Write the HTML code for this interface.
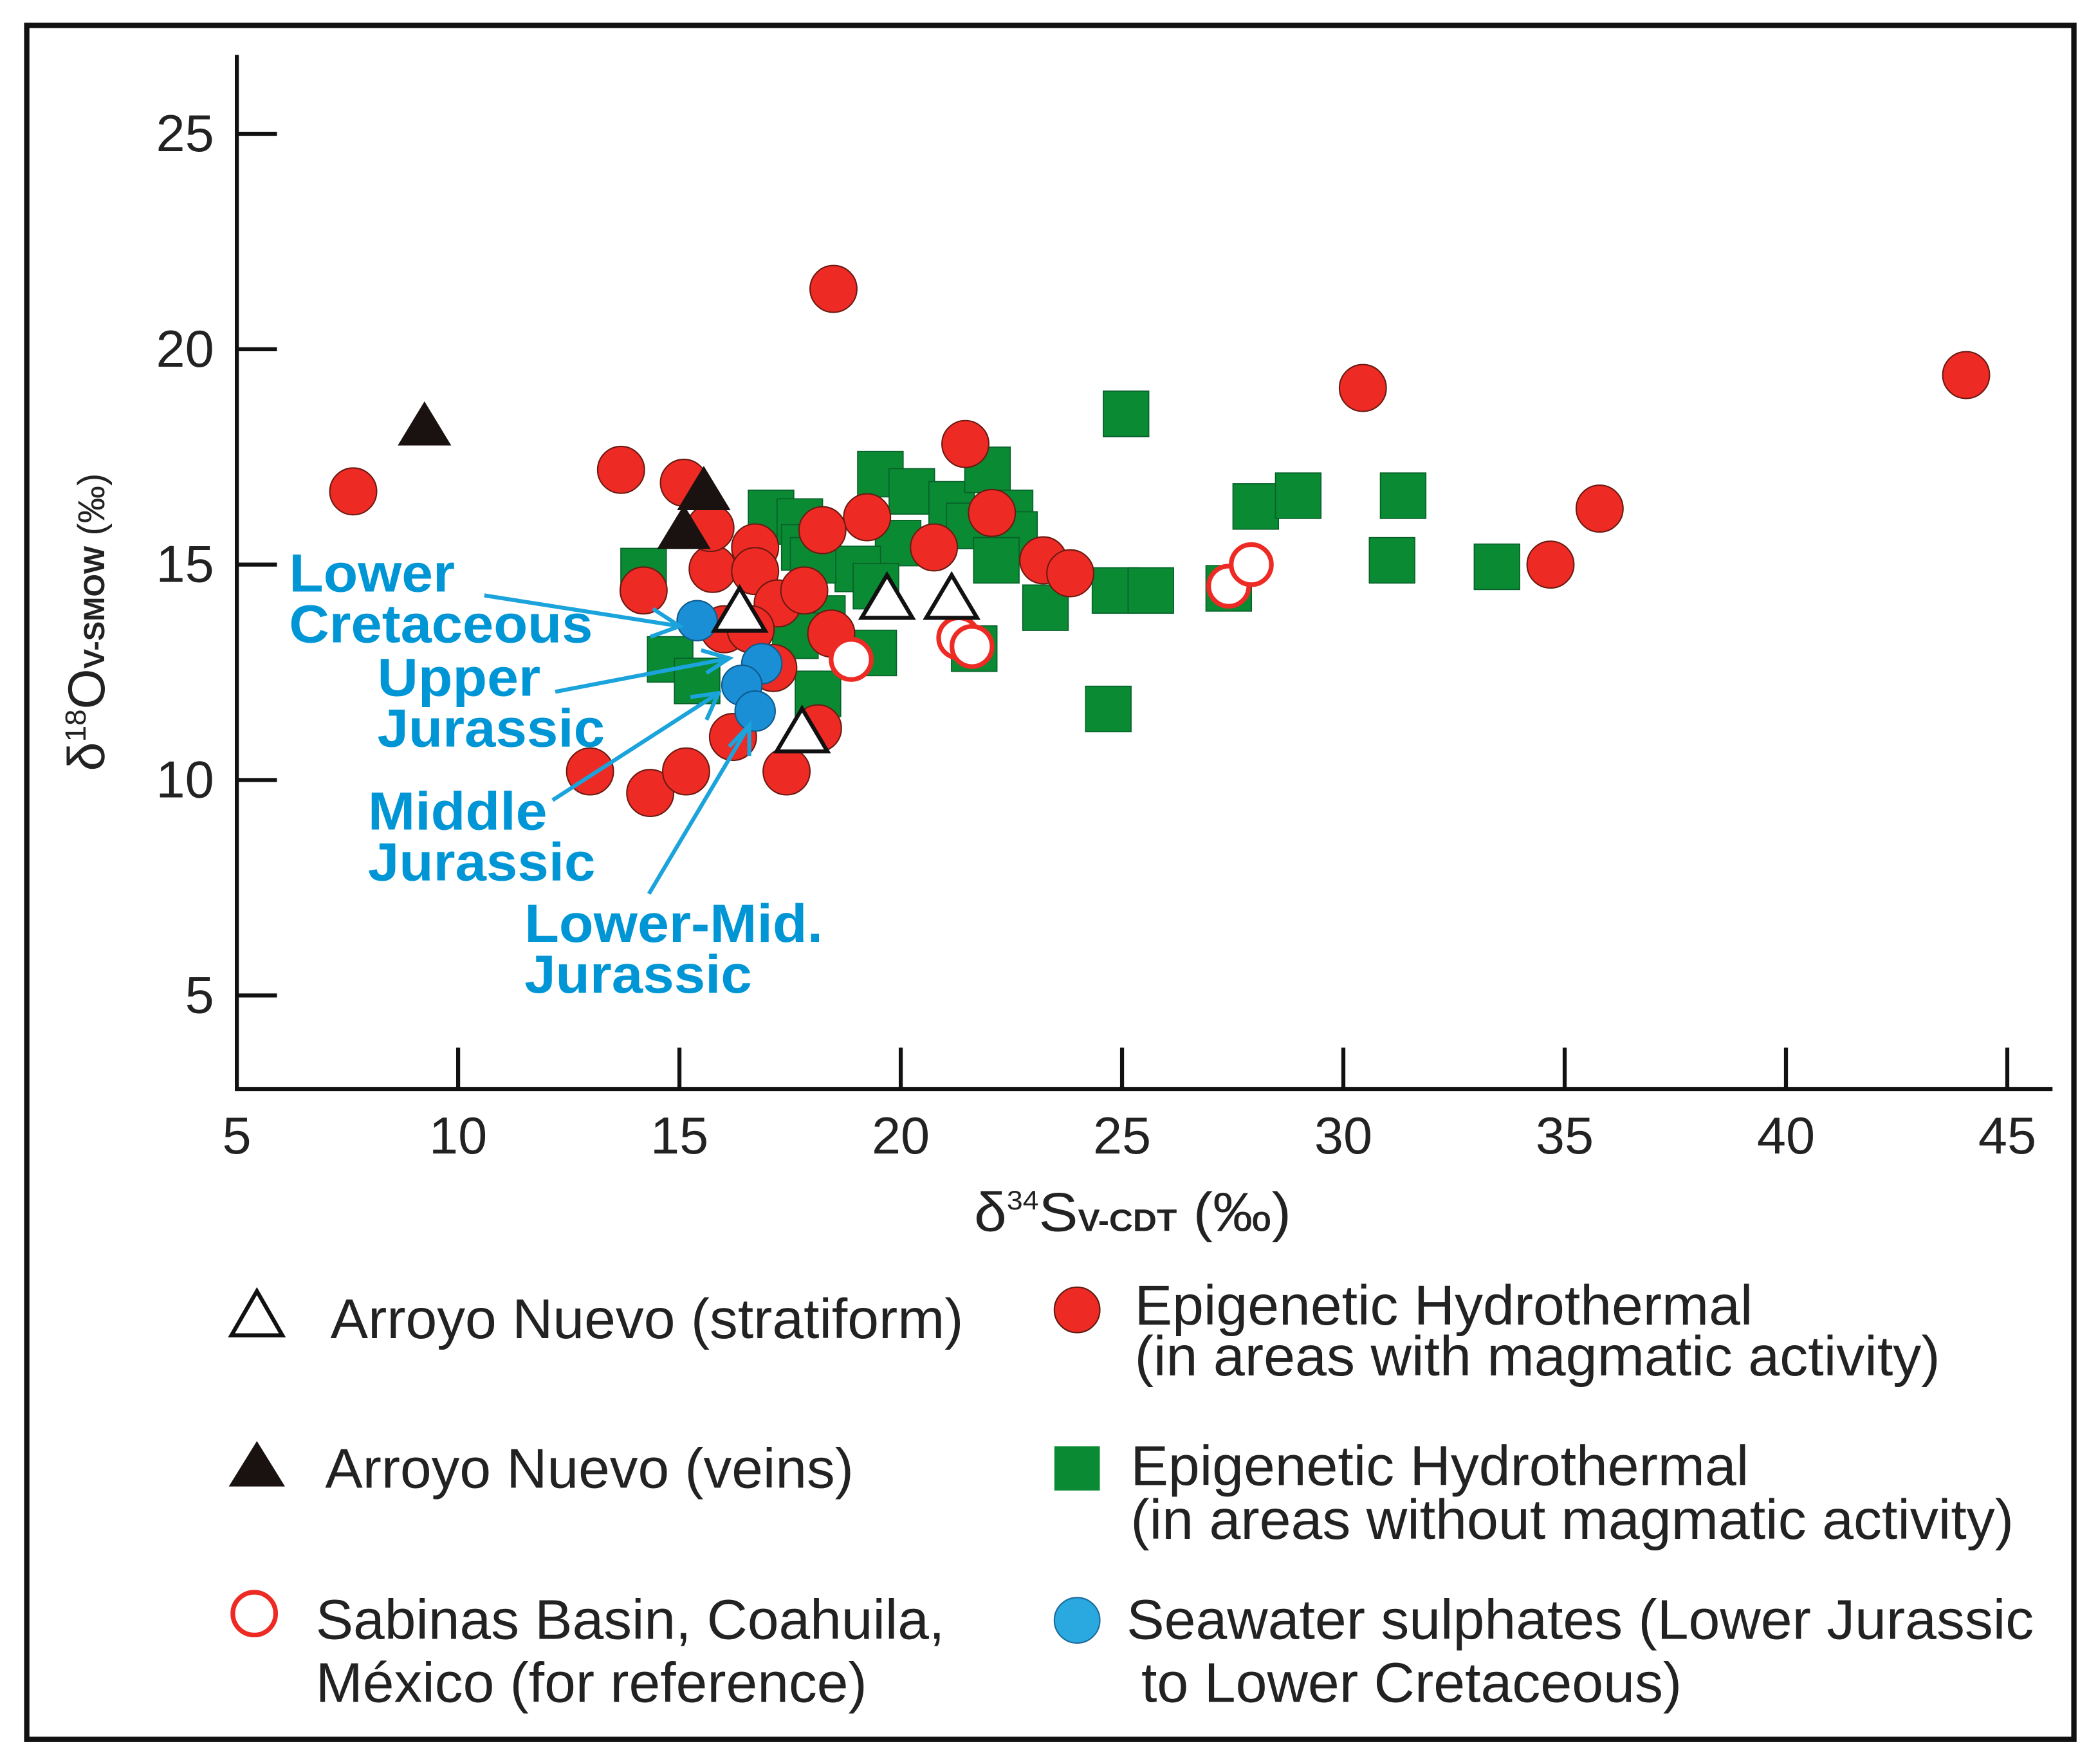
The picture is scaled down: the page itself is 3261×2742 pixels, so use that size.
<!DOCTYPE html>
<html><head><meta charset="utf-8"><style>
html,body{margin:0;padding:0;background:#fff;}
svg{display:block;}
text{font-family:"Liberation Sans",Arial,sans-serif;}
</style></head><body>
<svg id="chart" width="3261" height="2742" viewBox="0 0 1568 1318.4" preserveAspectRatio="none" xmlns="http://www.w3.org/2000/svg">
<rect x="20" y="19" width="1530" height="1281" fill="#fff" stroke="#111" stroke-width="4"/>
<g id="axes"></g>
<g id="marks"></g>
<g fill="#0096d6" font-weight="bold" font-size="40" lengthAdjust="spacingAndGlyphs">
<text x="216" y="442" textLength="124" lengthAdjust="spacingAndGlyphs">Lower</text>
<text x="216" y="480" textLength="227" lengthAdjust="spacingAndGlyphs">Cretaceous</text>
<text x="282" y="520" textLength="122" lengthAdjust="spacingAndGlyphs">Upper</text>
<text x="282" y="558" textLength="170" lengthAdjust="spacingAndGlyphs">Jurassic</text>
<text x="275" y="620" textLength="134" lengthAdjust="spacingAndGlyphs">Middle</text>
<text x="275" y="658" textLength="170" lengthAdjust="spacingAndGlyphs">Jurassic</text>
<text x="392" y="704" textLength="223" lengthAdjust="spacingAndGlyphs">Lower-Mid.</text>
<text x="392" y="742" textLength="170" lengthAdjust="spacingAndGlyphs">Jurassic</text>
</g>
<g stroke="#1ba3dc" stroke-width="3" fill="none">
<path d="M362 445 L508 468 M488 455 L508 468 L486 476"/>
<path d="M415 517 L545 492 M524 486 L545 492 L528 503"/>
<path d="M413 598 L537 518 M516 521 L537 518 L528 538"/>
<path d="M485 668 L560 542 M545 558 L560 542 L560 565"/>
</g>
<g font-size="42" fill="#222">
<polygon points="192,965 173,998 211,998" fill="#fff" stroke="#111" stroke-width="3"/>
<text x="247" y="1000" textLength="473" lengthAdjust="spacingAndGlyphs">Arroyo Nuevo (stratiform)</text>
<polygon points="192,1077 171,1111 213,1111" fill="#1a1210"/>
<text x="243" y="1112" textLength="395" lengthAdjust="spacingAndGlyphs">Arroyo Nuevo (veins)</text>
<circle cx="190" cy="1206" r="16" fill="#fff" stroke="#ee2a24" stroke-width="3.5"/>
<text x="236" y="1225" textLength="470" lengthAdjust="spacingAndGlyphs">Sabinas Basin, Coahuila,</text>
<text x="236" y="1272" textLength="412" lengthAdjust="spacingAndGlyphs">México (for reference)</text>
<circle cx="805" cy="979" r="17" fill="#ee2a24" stroke="#5a1a10" stroke-width="1"/>
<text x="848" y="990" textLength="462" lengthAdjust="spacingAndGlyphs">Epigenetic Hydrothermal</text>
<text x="848" y="1028" textLength="602" lengthAdjust="spacingAndGlyphs">(in areas with magmatic activity)</text>
<rect x="788" y="1081" width="34" height="33" fill="#0a8a32"/>
<text x="845" y="1110" textLength="462" lengthAdjust="spacingAndGlyphs">Epigenetic Hydrothermal</text>
<text x="845" y="1150" textLength="660" lengthAdjust="spacingAndGlyphs">(in areas without magmatic activity)</text>
<circle cx="805" cy="1211" r="17" fill="#2aa8e0" stroke="#1a6a9a" stroke-width="1"/>
<text x="842" y="1225" textLength="678" lengthAdjust="spacingAndGlyphs">Seawater sulphates (Lower Jurassic</text>
<text x="853" y="1272" textLength="404" lengthAdjust="spacingAndGlyphs">to Lower Cretaceous)</text>
</g>
</svg>
<script>
const xTicks = [5,10,15,20,25,30,35,40,45];
const yTicks = [5,10,15,20,25];
const redX = [18.48,7.63,30.44,44.07,35.79,34.68,13.68,15.10,21.46,22.06,19.24,18.23,20.75,23.22,23.83,15.75,16.71,16.71,17.22,14.19,15.70,12.98,14.34,15.15,17.42,16.21,18.13,17.12,16.01,16.61,17.82,18.43];
const redY = [21.4,16.7,19.1,19.4,16.3,15.0,17.2,16.9,17.8,16.2,16.1,15.8,15.4,15.1,14.8,14.9,15.4,14.85,14.1,14.4,15.85,10.2,9.7,10.2,10.2,11.0,11.2,12.6,13.5,13.5,14.4,13.4];
const greenX = [25.09,14.19,17.07,17.72,19.54,20.25,21.15,21.96,22.47,21.55,22.57,22.16,19.94,19.03,17.82,18.02,19.44,18.23,17.62,19.39,18.13,14.79,15.40,23.27,24.84,25.65,24.69,28.02,28.98,31.35,31.10,33.47,27.41,21.66];
const greenY = [18.5,14.85,16.2,16.0,17.1,16.7,16.4,17.2,16.2,15.9,15.7,15.1,15.5,14.9,15.4,15.1,14.5,13.75,13.35,12.95,12.0,12.8,12.3,14.0,14.4,14.4,11.65,16.35,16.6,16.6,15.1,14.95,14.45,13.05];
const veinX = [9.24,15.55,15.10];
const veinY = [18.2,16.7,15.8];
const stratX = [16.36,19.69,21.15,17.77];
const stratY = [13.9,14.2,14.2,11.1];
const sabX = [18.88,21.31,21.61,27.41,27.92];
const sabY = [12.8,13.3,13.1,14.5,15.0];
const seaX = [15.40,16.86,16.41,16.71];
const seaY = [13.7,12.7,12.2,11.6];

const NS='http://www.w3.org/2000/svg';
function sx(v){return 177+(v-5)*33.08;}
function sy(v){return 100+(25-v)*32.2;}
function mk(tag,attrs,parent){const e=document.createElementNS(NS,tag);for(const k in attrs)e.setAttribute(k,attrs[k]);parent.appendChild(e);return e;}
const axes=document.getElementById('axes');
const marks=document.getElementById('marks');
let e;
e=mk('line',{x1:177,y1:41,x2:177,y2:815,stroke:'#111','stroke-width':3},axes);


e=mk('line',{x1:175.5,y1:814,x2:1534,y2:814,stroke:'#111','stroke-width':3},axes);


xTicks.forEach(t=>{
  if(t>5){e=mk('line',{x1:sx(t),y1:783,x2:sx(t),y2:814,stroke:'#111','stroke-width':3},axes);
  
  }
  e=mk('text',{x:sx(t),y:862,'text-anchor':'middle','font-size':39,fill:'#222'},axes);
  e.textContent=t;
  
  
});
yTicks.forEach(t=>{
  e=mk('line',{x1:177,y1:sy(t),x2:207,y2:sy(t),stroke:'#111','stroke-width':3},axes);
  
  
  e=mk('text',{x:160,y:sy(t)+13,'text-anchor':'end','font-size':39,fill:'#222'},axes);
  e.textContent=t;
  
  
});
e=mk('text',{x:728,y:920,'font-size':41,fill:'#222',textLength:237,lengthAdjust:'spacingAndGlyphs'},axes);
e.innerHTML='δ<tspan font-size="20" dy="-16">34</tspan><tspan dy="16">S</tspan><tspan font-size="23" font-weight="bold">V-CDT</tspan><tspan> (‰)</tspan>';


e=mk('text',{x:0,y:0,'text-anchor':'middle','font-size':39,fill:'#222',transform:'translate(78,465) rotate(-90)'},axes);
e.innerHTML='δ<tspan font-size="22" dy="-14">18</tspan><tspan dy="14">O</tspan><tspan font-size="22" font-weight="bold">V-SMOW</tspan><tspan font-size="28"> (‰)</tspan>';



greenX.forEach((v,i)=>{
  e=mk('rect',{x:sx(v)-17,y:sy(greenY[i])-17,width:34,height:34,fill:'#0a8a32',stroke:'#06602a','stroke-width':0.8},marks);
  
  
});
redX.forEach((v,i)=>{
  e=mk('circle',{cx:sx(v),cy:sy(redY[i]),r:17.5,fill:'#ee2a24',stroke:'#6a1a12','stroke-width':1},marks);
  
  
});
sabX.forEach((v,i)=>{
  e=mk('circle',{cx:sx(v),cy:sy(sabY[i]),r:15,fill:'#fff',stroke:'#ee2a24','stroke-width':3.5},marks);
  
  
});
seaX.forEach((v,i)=>{
  e=mk('circle',{cx:sx(v),cy:sy(seaY[i]),r:15,fill:'#1a8fd6',stroke:'#0d5a8a','stroke-width':1},marks);
  
  
});
veinX.forEach((v,i)=>{
  const x=sx(v),y=sy(veinY[i]);
  e=mk('polygon',{points:`${x},${y-19} ${x-20},${y+14} ${x+20},${y+14}`,fill:'#1a1210'},marks);
  
  
});
stratX.forEach((v,i)=>{
  const x=sx(v),y=sy(stratY[i]);
  e=mk('polygon',{points:`${x},${y-18} ${x-19},${y+14} ${x+19},${y+14}`,fill:'#fff',stroke:'#111','stroke-width':3},marks);
  
  
});
</script>
</body></html>
